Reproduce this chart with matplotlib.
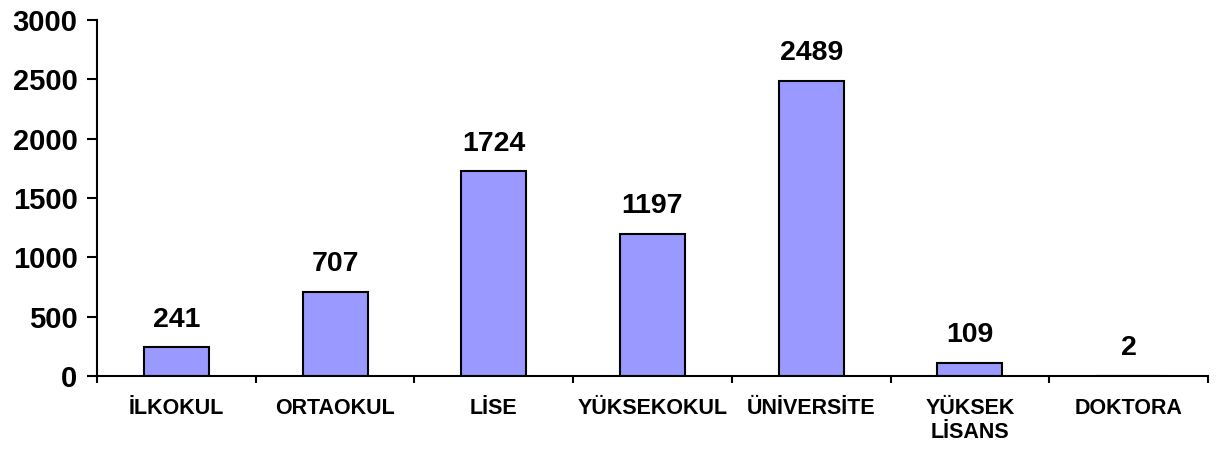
import matplotlib
matplotlib.use("Agg")
import matplotlib.pyplot as plt
import numpy as np

categories = ["İLKOKUL", "ORTAOKUL", "LİSE", "YÜKSEKOKUL", "ÜNİVERSİTE",
              "YÜKSEK\nLİSANS", "DOKTORA"]
counts = [241, 707, 1724, 1197, 2489, 109, 2]
yticks = [0, 500, 1000, 1500, 2000, 2500, 3000]

plt.rcParams["font.family"] = ["Liberation Sans", "DejaVu Sans"]
plt.rcParams["font.weight"] = "bold"

fig = plt.figure(figsize=(12.22, 4.49), dpi=100)
ax = fig.add_axes([0.0794, 0.1626, 0.9091, 0.7929])

x = np.arange(len(categories))
ax.bar(x, counts, width=0.41, color="#9999FF", edgecolor="black", linewidth=1.5)

for xi, v in zip(x, counts):
    ax.annotate(str(v), (xi, v), xytext=(0, 15), textcoords="offset points",
                ha="center", va="baseline", fontsize=20.5, fontweight="bold")

ax.set_xlim(-0.5, len(categories) - 0.5)
ax.set_ylim(0, 3000)
ax.set_yticks(yticks)
ax.set_yticklabels([str(t) for t in yticks], fontsize=21, fontweight="bold")

# category boundaries carry the tick marks, centres carry the labels
ax.set_xticks(np.arange(len(categories) + 1) - 0.5)
ax.set_xticklabels([])
ax.set_xticks(x, minor=True)
ax.set_xticklabels(categories, minor=True, fontsize=15.5, fontweight="bold",
                   linespacing=1.2, va="top")
ax.tick_params(axis="x", which="major", direction="out", length=5, width=1.5)
ax.tick_params(axis="x", which="minor", length=0, pad=16)
ax.tick_params(axis="y", direction="out", length=7, width=1.5, pad=7)

for side in ["top", "right"]:
    ax.spines[side].set_visible(False)
for side in ["left", "bottom"]:
    ax.spines[side].set_linewidth(1.5)

fig.savefig("out.png", dpi=100)
